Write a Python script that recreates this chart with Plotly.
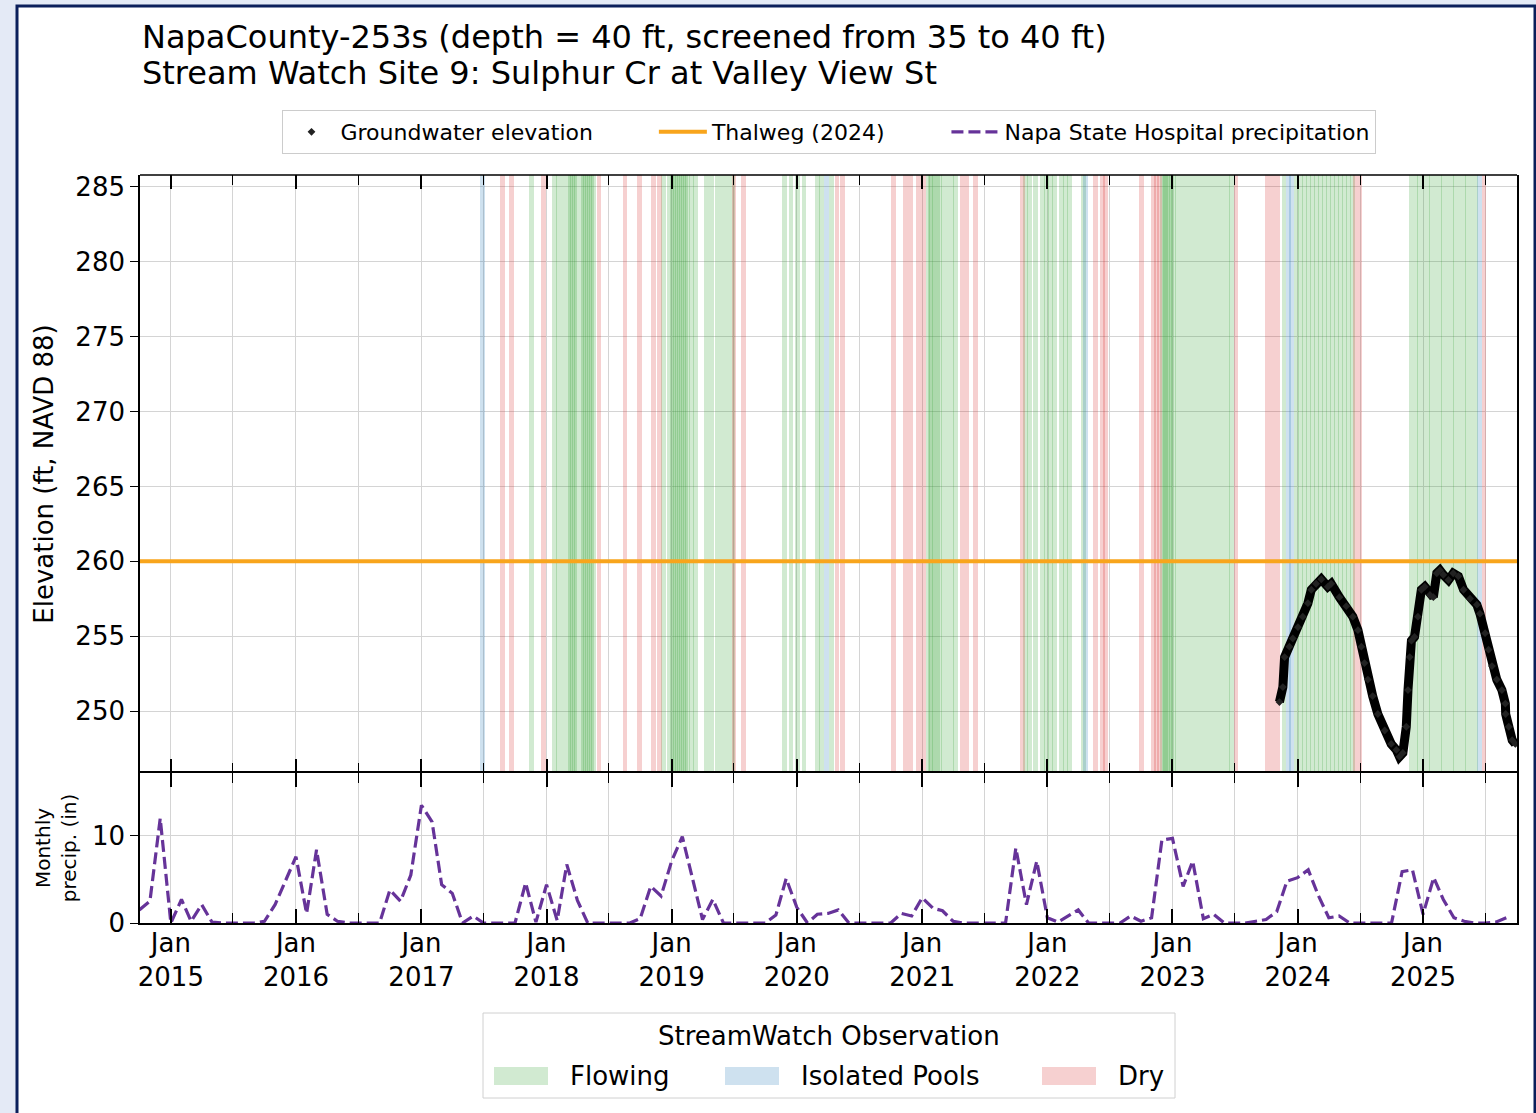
import pandas as pd
import plotly.graph_objects as go
from plotly.subplots import make_subplots

# ---------------- data ----------------
# Groundwater elevation at NapaCounty-253s (ft, NAVD 88)
gw_dates = [
    "2023-11-09", "2023-11-19", "2023-11-24", "2023-12-08", "2023-12-18",
    "2024-01-02", "2024-01-16", "2024-01-31", "2024-02-10", "2024-02-24",
    "2024-03-10", "2024-03-29", "2024-04-08", "2024-05-02", "2024-05-22",
    "2024-06-10", "2024-06-25", "2024-07-05", "2024-07-14", "2024-07-24",
    "2024-08-07", "2024-08-22", "2024-09-11", "2024-09-30", "2024-10-15",
    "2024-10-24", "2024-11-03", "2024-11-13", "2024-11-18", "2024-11-23",
    "2024-11-28", "2024-12-07", "2024-12-17", "2024-12-27", "2025-01-06",
    "2025-01-21", "2025-01-31", "2025-02-10", "2025-02-19", "2025-03-01",
    "2025-03-16", "2025-03-30", "2025-04-14", "2025-04-29", "2025-05-18",
    "2025-06-07", "2025-06-16", "2025-07-01", "2025-07-11", "2025-07-21",
    "2025-08-04", "2025-08-19", "2025-08-29", "2025-08-30", "2025-09-08",
    "2025-09-18", "2025-09-27",
]
gw_elev = [
    250.6, 251.6, 253.6, 254.3, 254.85,
    255.6, 256.3, 257.2, 258.1, 258.5,
    258.8, 258.3, 258.5, 257.6, 257.0,
    256.3, 255.4, 254.3, 253.2, 252.1,
    251.0, 249.8, 248.7, 247.8, 247.4,
    246.95, 247.2, 248.95, 251.4, 253.6,
    254.7, 254.95, 256.3, 258.1, 258.3,
    257.75, 257.6, 259.2, 259.4, 259.1,
    258.75, 259.2, 259.0, 258.1, 257.5,
    257.1, 256.5, 255.2, 254.1, 253.0,
    252.1, 251.4, 250.5, 249.8, 248.95,
    248.05, 247.8,
]

# Creek thalweg elevation surveyed in 2024 (ft, NAVD 88)
thalweg_elev = 260.0

# Monthly precipitation at Napa State Hospital (in), water years 2015-2025
precip_start = "2014-10-01"
precip_in = [
    1.5, 2.5, 12.0, 0.0, 2.7, 0.2, 2.1, 0.1, 0.0, 0.0, 0.0, 0.0,    # WY2015
    0.2, 2.1, 4.8, 7.6, 1.1, 8.4, 1.0, 0.2, 0.0, 0.0, 0.0, 0.0,     # WY2016
    3.8, 2.5, 5.5, 13.5, 11.6, 4.4, 3.4, 0.0, 0.8, 0.0, 0.0, 0.0,   # WY2017
    0.0, 4.6, 0.1, 4.4, 0.3, 6.7, 2.6, 0.0, 0.0, 0.0, 0.0, 0.0,     # WY2018
    0.5, 4.2, 3.1, 7.1, 9.9, 5.2, 0.4, 2.7, 0.0, 0.0, 0.0, 0.0,     # WY2019
    0.0, 0.9, 5.1, 1.8, 0.0, 1.0, 1.1, 1.5, 0.0, 0.0, 0.0, 0.0,     # WY2020
    0.0, 1.1, 0.8, 2.9, 1.7, 1.4, 0.2, 0.0, 0.0, 0.0, 0.0, 0.0,     # WY2021
    8.6, 2.1, 7.1, 0.6, 0.1, 0.8, 1.5, 0.0, 0.0, 0.0, 0.0, 0.8,     # WY2022
    0.2, 0.6, 9.5, 9.7, 4.2, 7.1, 0.5, 1.0, 0.0, 0.0, 0.0, 0.2,     # WY2023
    0.4, 1.3, 4.8, 5.2, 6.1, 3.2, 0.6, 0.8, 0.0, 0.0, 0.0, 0.0,     # WY2024
    0.0, 5.9, 6.1, 1.0, 5.2, 2.7, 0.6, 0.2, 0.0, 0.0, 0.1, 0.6,     # WY2025
]

# StreamWatch site visits by observed creek condition
flowing_dates = [
    "2017-11-18",
    "2018-01-24", "2018-02-05", "2018-02-20", "2018-03-06", "2018-03-12",
    "2018-03-18", "2018-03-24", "2018-03-30", "2018-04-13", "2018-04-19",
    "2018-04-25", "2018-05-01", "2018-05-06", "2018-05-12", "2018-05-18",
    "2018-12-09", "2018-12-24", "2019-01-02", "2019-01-07", "2019-01-12",
    "2019-01-18", "2019-01-24", "2019-01-30", "2019-02-05", "2019-02-11",
    "2019-02-16", "2019-02-28", "2019-03-12",
    "2019-04-13", "2019-04-28", "2019-05-15", "2019-05-30", "2019-06-13",
    "2019-06-28",
    "2019-11-27", "2019-12-15", "2020-01-04", "2020-01-22", "2020-03-02",
    "2020-03-14", "2020-04-12",
    "2021-01-18", "2021-01-24", "2021-01-29", "2021-02-04", "2021-02-10",
    "2021-02-16", "2021-02-22", "2021-03-05", "2021-03-17", "2021-03-29",
    "2021-04-09",
    "2021-10-29", "2021-11-10", "2021-11-27", "2021-12-17", "2021-12-29",
    "2022-01-10", "2022-01-21", "2022-02-11", "2022-02-23", "2022-03-06",
    "2022-04-16",
    "2022-12-03", "2022-12-08", "2022-12-12", "2022-12-18", "2022-12-23",
    "2022-12-29", "2023-01-04", "2023-01-16", "2023-01-30", "2023-02-14",
    "2023-02-28", "2023-03-15", "2023-03-30", "2023-04-13", "2023-04-28",
    "2023-05-12", "2023-05-27", "2023-06-10", "2023-06-22",
    "2023-11-22", "2023-12-29", "2024-01-10", "2024-01-21", "2024-02-02",
    "2024-02-14", "2024-02-25", "2024-03-08", "2024-03-20", "2024-03-31",
    "2024-04-12", "2024-04-24", "2024-05-05", "2024-05-17", "2024-05-29",
    "2024-06-09",
    "2024-11-27", "2024-12-09", "2024-12-20", "2025-01-01", "2025-01-13",
    "2025-01-24", "2025-02-05", "2025-02-17", "2025-02-28", "2025-03-12",
    "2025-03-24", "2025-04-04", "2025-04-16", "2025-04-28", "2025-05-09",
    "2025-05-21", "2025-06-02",
]
pools_dates = [
    "2017-06-27", "2020-03-27", "2022-04-22", "2023-12-05", "2023-12-15",
    "2025-06-15",
]
dry_dates = [
    "2017-08-26", "2017-09-21", "2017-12-23", "2018-06-03", "2018-08-18",
    "2018-09-28", "2018-11-09", "2018-11-27", "2019-07-02", "2019-07-29",
    "2020-04-27", "2020-05-14", "2020-10-08", "2020-11-12", "2020-11-27",
    "2020-12-20", "2021-01-05", "2021-04-27", "2021-05-11", "2021-06-05",
    "2021-10-20", "2022-05-22", "2022-06-10", "2022-06-20", "2022-10-03",
    "2022-11-07", "2022-11-15", "2022-11-24", "2023-07-05", "2023-10-05",
    "2023-10-20", "2023-11-04", "2024-06-18", "2024-07-01", "2025-06-28",
]

# ---------------- styling constants ----------------
X_RANGE = ["2014-10-03", "2025-10-02"]
ELEV_RANGE = [245.86, 285.8]
PRECIP_RANGE = [0, 17.2]
BAND_DAYS = 14
FONT = "DejaVu Sans"
GRID = "#d4d4d4"
AXIS_W = 1.6
W, H = 1536, 1113
M_L, M_R, M_T, M_B = 140, 19, 175, 190
PAD = "\u00a0" * 8  # extra room between top-legend entries

band_styles = [
    ("Flowing", flowing_dates, "rgba(44,160,44,0.22)"),
    ("Isolated Pools", pools_dates, "rgba(31,119,180,0.22)"),
    ("Dry", dry_dates, "rgba(214,39,40,0.22)"),
]

fig = make_subplots(rows=2, cols=1, shared_xaxes=True,
                    vertical_spacing=0, row_heights=[598, 150])

# observation bands spanning the full elevation panel
band_ms = BAND_DAYS * 24 * 3600 * 1000
for name, dates, color in band_styles:
    fig.add_trace(go.Bar(
        x=pd.to_datetime(dates),
        y=[ELEV_RANGE[1] - ELEV_RANGE[0]] * len(dates),
        base=ELEV_RANGE[0],
        width=band_ms,
        marker=dict(color=color, line=dict(width=0)),
        name=name, showlegend=False, hoverinfo="skip",
    ), row=1, col=1)

# thalweg line
fig.add_trace(go.Scatter(
    x=X_RANGE, y=[thalweg_elev, thalweg_elev], mode="lines",
    line=dict(color="#f8a51c", width=4),
    name="Thalweg (2024)" + PAD, legendrank=2,
), row=1, col=1)

# groundwater elevation
gw_x = pd.to_datetime(gw_dates)
fig.add_trace(go.Scatter(
    x=gw_x, y=gw_elev, mode="lines",
    line=dict(color="black", width=9),
    showlegend=False, legendgroup="gw", hoverinfo="skip",
), row=1, col=1)
fig.add_trace(go.Scatter(
    x=gw_x, y=gw_elev, mode="markers",
    marker=dict(symbol="diamond", size=6, color="#222222"),
    name="Groundwater elevation" + PAD, legendgroup="gw", legendrank=1,
), row=1, col=1)

# monthly precipitation
precip_x = pd.date_range(precip_start, periods=len(precip_in), freq="MS")
fig.add_trace(go.Scatter(
    x=precip_x, y=precip_in, mode="lines",
    line=dict(color="#663399", width=3.2, dash="12px,5px"),
    name="Napa State Hospital precipitation", legendrank=3,
), row=2, col=1)

# ---------------- axes ----------------
xaxis_common = dict(
    type="date", range=X_RANGE,
    showline=True, linecolor="black", linewidth=AXIS_W, mirror="allticks",
    ticks="inside", ticklen=14, tickwidth=1.5, tickcolor="black",
    tick0="2015-01-01", dtick="M12", tickformat="%b<br>%Y",
    showgrid=True, gridcolor=GRID, gridwidth=1,
    minor=dict(ticks="inside", ticklen=10, tickwidth=1.2, tickcolor="black",
               tick0="2014-07-01", dtick="M6",
               showgrid=True, gridcolor=GRID, gridwidth=1),
    tickfont=dict(family=FONT, size=26, color="black"),
    zeroline=False,
)
fig.update_xaxes(**xaxis_common)
# the shared edge between panels is drawn once, by the lower panel's frame
fig.update_xaxes(showticklabels=False, linecolor="rgba(0,0,0,0)", row=1, col=1)
fig.update_xaxes(showticklabels=True, ticklabelstandoff=-4, row=2, col=1)

fig.update_yaxes(
    range=ELEV_RANGE, tick0=250, dtick=5,
    showline=True, linecolor="black", linewidth=AXIS_W, mirror=True,
    ticks="outside", ticklen=8, tickwidth=1.2, tickcolor="black",
    showgrid=True, gridcolor=GRID, gridwidth=1, zeroline=False,
    tickfont=dict(family=FONT, size=26, color="black"),
    title=dict(text="Elevation (ft, NAVD 88)", standoff=14,
               font=dict(family=FONT, size=26, color="black")),
    row=1, col=1,
)
fig.update_yaxes(
    range=PRECIP_RANGE, tick0=0, dtick=10,
    showline=True, linecolor="black", linewidth=AXIS_W, mirror=True,
    ticks="outside", ticklen=8, tickwidth=1.2, tickcolor="black",
    showgrid=True, gridcolor=GRID, gridwidth=1, zeroline=False,
    tickfont=dict(family=FONT, size=26, color="black"),
    title=dict(text="Monthly<br>precip. (in)", standoff=10,
               font=dict(family=FONT, size=20, color="black")),
    row=2, col=1,
)

plot_w = W - M_L - M_R
plot_h = H - M_T - M_B


def px_x(px):
    return (px - M_L) / plot_w


def px_y(py):
    return (H - M_B - py) / plot_h


shapes = [
    # page frame
    dict(type="rect", xref="paper", yref="paper", layer="below",
         x0=px_x(17), x1=px_x(1535), y0=px_y(6), y1=px_y(1125),
         fillcolor="white", line=dict(color="#0b1f5b", width=3)),
    # top edge of the elevation panel
    dict(type="line", xref="paper", yref="paper", layer="above",
         x0=0, x1=1, y0=1, y1=1, line=dict(color="black", width=AXIS_W)),
    # StreamWatch key box
    dict(type="rect", xref="paper", yref="paper", layer="above",
         x0=px_x(483), x1=px_x(1175), y0=px_y(1013), y1=px_y(1098),
         fillcolor="white", line=dict(color="#d0d0d0", width=1)),
]
annotations = [
    dict(text="NapaCounty-253s (depth = 40 ft, screened from 35 to 40 ft)",
         xref="paper", yref="paper", x=0, y=px_y(37),
         xanchor="left", yanchor="middle", showarrow=False,
         font=dict(family=FONT, size=32, color="black")),
    dict(text="Stream Watch Site 9: Sulphur Cr at Valley View St",
         xref="paper", yref="paper", x=0, y=px_y(73),
         xanchor="left", yanchor="middle", showarrow=False,
         font=dict(family=FONT, size=32, color="black")),
    dict(text="StreamWatch Observation",
         xref="paper", yref="paper", x=px_x(829), y=px_y(1036),
         xanchor="center", yanchor="middle", showarrow=False,
         font=dict(family=FONT, size=26, color="black")),
]

# StreamWatch key entries: swatch + label
key_swatch_left = [494, 725, 1042]
for (name, _, color), left in zip(band_styles, key_swatch_left):
    shapes.append(dict(
        type="rect", xref="paper", yref="paper", layer="above",
        x0=px_x(left), x1=px_x(left + 54), y0=px_y(1067), y1=px_y(1085),
        fillcolor=color, line=dict(width=0)))
    annotations.append(dict(
        text=name, xref="paper", yref="paper",
        x=px_x(left + 74), y=px_y(1076),
        xanchor="left", yanchor="middle", showarrow=False,
        font=dict(family=FONT, size=26, color="black")))

# ---------------- layout ----------------
fig.update_layout(
    width=W, height=H, autosize=False,
    margin=dict(l=M_L, r=M_R, t=M_T, b=M_B),
    paper_bgcolor="#e4eaf6", plot_bgcolor="white",
    barmode="overlay", bargap=0,
    font=dict(family=FONT, color="black"),
    showlegend=True,
    legend=dict(
        orientation="h", x=0.5, xanchor="center",
        y=px_y(132), yanchor="middle",
        bgcolor="white", bordercolor="#cccccc", borderwidth=1,
        font=dict(family=FONT, size=22, color="black"),
        itemwidth=48, traceorder="normal",
    ),
    shapes=shapes,
    annotations=annotations,
    hovermode=False,
)

fig.write_html("out.html")
